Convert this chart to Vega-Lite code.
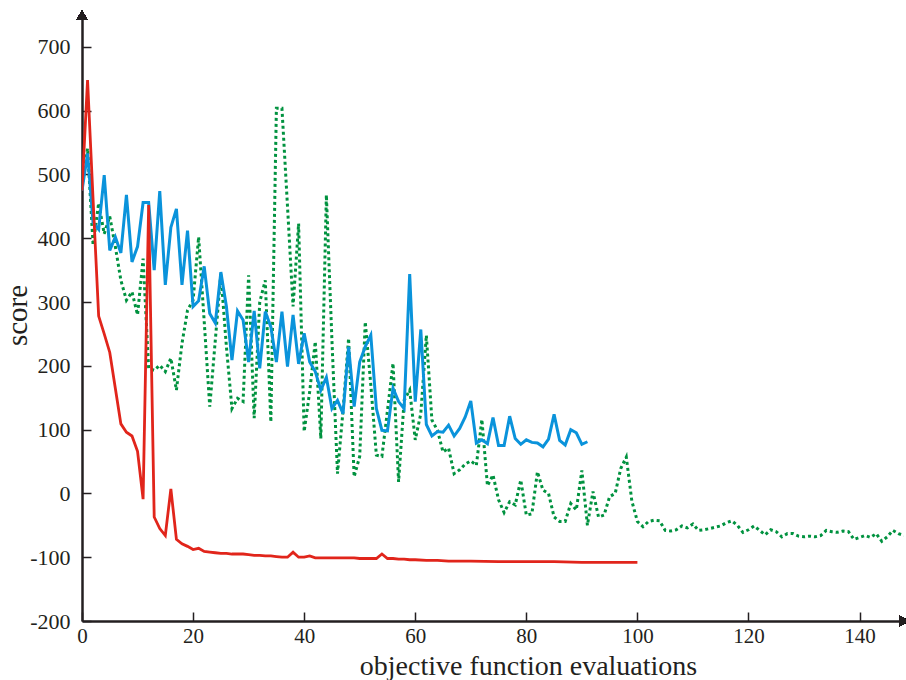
{
  "$schema": "https://vega.github.io/schema/vega-lite/v6.json",
  "width": 822,
  "height": 606,
  "autosize": {"type": "none"},
  "padding": {"left": 82, "top": 15, "right": 2, "bottom": 59},
  "background": "white",
  "config": {
    "view": {"stroke": null},
    "font": "Liberation Serif",
    "axis": {
      "grid": false,
      "domainColor": "#231f20",
      "domainWidth": 2.5,
      "tickColor": "#231f20",
      "tickWidth": 1.5,
      "tickSize": -9,
      "labelColor": "#231f20",
      "titleColor": "#231f20",
      "labelFont": "Liberation Serif",
      "titleFont": "Liberation Serif",
      "titleFontWeight": "normal",
      "labelFlush": false,
      "labelOverlap": false
    }
  },
  "data": {
    "values": [
      {"s": "red", "x": 0, "y": 475}, {"s": "red", "x": 1, "y": 648}, {"s": "red", "x": 2, "y": 460}, {"s": "red", "x": 3, "y": 278},
      {"s": "red", "x": 4, "y": 250}, {"s": "red", "x": 5, "y": 221}, {"s": "red", "x": 6, "y": 165}, {"s": "red", "x": 7, "y": 109},
      {"s": "red", "x": 8, "y": 96}, {"s": "red", "x": 9, "y": 90}, {"s": "red", "x": 10, "y": 66}, {"s": "red", "x": 11, "y": -9},
      {"s": "red", "x": 12, "y": 452}, {"s": "red", "x": 13, "y": -37}, {"s": "red", "x": 14, "y": -55}, {"s": "red", "x": 15, "y": -66},
      {"s": "red", "x": 16, "y": 7}, {"s": "red", "x": 17, "y": -72}, {"s": "red", "x": 18, "y": -79}, {"s": "red", "x": 19, "y": -83},
      {"s": "red", "x": 20, "y": -88}, {"s": "red", "x": 21, "y": -86}, {"s": "red", "x": 22, "y": -91}, {"s": "red", "x": 23, "y": -92},
      {"s": "red", "x": 24, "y": -93}, {"s": "red", "x": 25, "y": -94}, {"s": "red", "x": 26, "y": -94}, {"s": "red", "x": 27, "y": -95},
      {"s": "red", "x": 28, "y": -95}, {"s": "red", "x": 29, "y": -95}, {"s": "red", "x": 30, "y": -96}, {"s": "red", "x": 31, "y": -97},
      {"s": "red", "x": 32, "y": -97}, {"s": "red", "x": 33, "y": -98}, {"s": "red", "x": 34, "y": -98}, {"s": "red", "x": 35, "y": -99},
      {"s": "red", "x": 36, "y": -100}, {"s": "red", "x": 37, "y": -100}, {"s": "red", "x": 38, "y": -92}, {"s": "red", "x": 39, "y": -100},
      {"s": "red", "x": 40, "y": -100}, {"s": "red", "x": 41, "y": -98}, {"s": "red", "x": 42, "y": -101}, {"s": "red", "x": 43, "y": -101},
      {"s": "red", "x": 44, "y": -101}, {"s": "red", "x": 45, "y": -101}, {"s": "red", "x": 46, "y": -101}, {"s": "red", "x": 47, "y": -101},
      {"s": "red", "x": 48, "y": -101}, {"s": "red", "x": 49, "y": -101}, {"s": "red", "x": 50, "y": -102}, {"s": "red", "x": 51, "y": -102},
      {"s": "red", "x": 52, "y": -102}, {"s": "red", "x": 53, "y": -102}, {"s": "red", "x": 54, "y": -95}, {"s": "red", "x": 55, "y": -102},
      {"s": "red", "x": 56, "y": -102}, {"s": "red", "x": 57, "y": -103}, {"s": "red", "x": 58, "y": -103}, {"s": "red", "x": 59, "y": -104},
      {"s": "red", "x": 60, "y": -104}, {"s": "red", "x": 62, "y": -105}, {"s": "red", "x": 64, "y": -105}, {"s": "red", "x": 66, "y": -106},
      {"s": "red", "x": 70, "y": -106}, {"s": "red", "x": 75, "y": -107}, {"s": "red", "x": 80, "y": -107}, {"s": "red", "x": 85, "y": -107},
      {"s": "red", "x": 90, "y": -108}, {"s": "red", "x": 95, "y": -108}, {"s": "red", "x": 100, "y": -108},

      {"s": "blue", "x": 0, "y": 475}, {"s": "blue", "x": 1, "y": 533}, {"s": "blue", "x": 2, "y": 424}, {"s": "blue", "x": 3, "y": 414},
      {"s": "blue", "x": 4, "y": 499}, {"s": "blue", "x": 5, "y": 381}, {"s": "blue", "x": 6, "y": 402}, {"s": "blue", "x": 7, "y": 377},
      {"s": "blue", "x": 8, "y": 468}, {"s": "blue", "x": 9, "y": 363}, {"s": "blue", "x": 10, "y": 387}, {"s": "blue", "x": 11, "y": 456},
      {"s": "blue", "x": 12, "y": 456}, {"s": "blue", "x": 13, "y": 350}, {"s": "blue", "x": 14, "y": 474}, {"s": "blue", "x": 15, "y": 327},
      {"s": "blue", "x": 16, "y": 417}, {"s": "blue", "x": 17, "y": 446}, {"s": "blue", "x": 18, "y": 327}, {"s": "blue", "x": 19, "y": 412},
      {"s": "blue", "x": 20, "y": 293}, {"s": "blue", "x": 21, "y": 302}, {"s": "blue", "x": 22, "y": 356}, {"s": "blue", "x": 23, "y": 282},
      {"s": "blue", "x": 24, "y": 267}, {"s": "blue", "x": 25, "y": 347}, {"s": "blue", "x": 26, "y": 293}, {"s": "blue", "x": 27, "y": 209},
      {"s": "blue", "x": 28, "y": 286}, {"s": "blue", "x": 29, "y": 272}, {"s": "blue", "x": 30, "y": 206}, {"s": "blue", "x": 31, "y": 286},
      {"s": "blue", "x": 32, "y": 196}, {"s": "blue", "x": 33, "y": 285}, {"s": "blue", "x": 34, "y": 261}, {"s": "blue", "x": 35, "y": 206},
      {"s": "blue", "x": 36, "y": 285}, {"s": "blue", "x": 37, "y": 199}, {"s": "blue", "x": 38, "y": 280}, {"s": "blue", "x": 39, "y": 203},
      {"s": "blue", "x": 40, "y": 251}, {"s": "blue", "x": 41, "y": 206}, {"s": "blue", "x": 42, "y": 191}, {"s": "blue", "x": 43, "y": 162},
      {"s": "blue", "x": 44, "y": 182}, {"s": "blue", "x": 45, "y": 133}, {"s": "blue", "x": 46, "y": 146}, {"s": "blue", "x": 47, "y": 125},
      {"s": "blue", "x": 48, "y": 230}, {"s": "blue", "x": 49, "y": 136}, {"s": "blue", "x": 50, "y": 206}, {"s": "blue", "x": 51, "y": 230},
      {"s": "blue", "x": 52, "y": 248}, {"s": "blue", "x": 53, "y": 133}, {"s": "blue", "x": 54, "y": 99}, {"s": "blue", "x": 55, "y": 98},
      {"s": "blue", "x": 56, "y": 165}, {"s": "blue", "x": 57, "y": 144}, {"s": "blue", "x": 58, "y": 133}, {"s": "blue", "x": 59, "y": 344},
      {"s": "blue", "x": 60, "y": 144}, {"s": "blue", "x": 61, "y": 257}, {"s": "blue", "x": 62, "y": 108}, {"s": "blue", "x": 63, "y": 90},
      {"s": "blue", "x": 64, "y": 97}, {"s": "blue", "x": 65, "y": 96}, {"s": "blue", "x": 66, "y": 107}, {"s": "blue", "x": 67, "y": 90},
      {"s": "blue", "x": 68, "y": 102}, {"s": "blue", "x": 69, "y": 120}, {"s": "blue", "x": 70, "y": 145}, {"s": "blue", "x": 71, "y": 79},
      {"s": "blue", "x": 72, "y": 84}, {"s": "blue", "x": 73, "y": 78}, {"s": "blue", "x": 74, "y": 119}, {"s": "blue", "x": 75, "y": 75},
      {"s": "blue", "x": 76, "y": 75}, {"s": "blue", "x": 77, "y": 121}, {"s": "blue", "x": 78, "y": 86}, {"s": "blue", "x": 79, "y": 77},
      {"s": "blue", "x": 80, "y": 84}, {"s": "blue", "x": 81, "y": 80}, {"s": "blue", "x": 82, "y": 79}, {"s": "blue", "x": 83, "y": 73},
      {"s": "blue", "x": 84, "y": 85}, {"s": "blue", "x": 85, "y": 124}, {"s": "blue", "x": 86, "y": 83}, {"s": "blue", "x": 87, "y": 76},
      {"s": "blue", "x": 88, "y": 100}, {"s": "blue", "x": 89, "y": 95}, {"s": "blue", "x": 90, "y": 77}, {"s": "blue", "x": 91, "y": 81},

      {"s": "green", "x": 0, "y": 480}, {"s": "green", "x": 1, "y": 541}, {"s": "green", "x": 2, "y": 389}, {"s": "green", "x": 3, "y": 455},
      {"s": "green", "x": 4, "y": 407}, {"s": "green", "x": 5, "y": 434}, {"s": "green", "x": 6, "y": 387}, {"s": "green", "x": 7, "y": 334},
      {"s": "green", "x": 8, "y": 303}, {"s": "green", "x": 9, "y": 316}, {"s": "green", "x": 10, "y": 280}, {"s": "green", "x": 11, "y": 368},
      {"s": "green", "x": 12, "y": 196}, {"s": "green", "x": 13, "y": 193}, {"s": "green", "x": 14, "y": 201}, {"s": "green", "x": 15, "y": 191},
      {"s": "green", "x": 16, "y": 212}, {"s": "green", "x": 17, "y": 162}, {"s": "green", "x": 18, "y": 235}, {"s": "green", "x": 19, "y": 287},
      {"s": "green", "x": 20, "y": 303}, {"s": "green", "x": 21, "y": 402}, {"s": "green", "x": 22, "y": 270}, {"s": "green", "x": 23, "y": 136},
      {"s": "green", "x": 24, "y": 240}, {"s": "green", "x": 25, "y": 345}, {"s": "green", "x": 26, "y": 230}, {"s": "green", "x": 27, "y": 133},
      {"s": "green", "x": 28, "y": 149}, {"s": "green", "x": 29, "y": 144}, {"s": "green", "x": 30, "y": 342}, {"s": "green", "x": 31, "y": 118},
      {"s": "green", "x": 32, "y": 300}, {"s": "green", "x": 33, "y": 334}, {"s": "green", "x": 34, "y": 112}, {"s": "green", "x": 35, "y": 604},
      {"s": "green", "x": 36, "y": 604}, {"s": "green", "x": 37, "y": 450}, {"s": "green", "x": 38, "y": 293}, {"s": "green", "x": 39, "y": 423},
      {"s": "green", "x": 40, "y": 97}, {"s": "green", "x": 41, "y": 160}, {"s": "green", "x": 42, "y": 238}, {"s": "green", "x": 43, "y": 86},
      {"s": "green", "x": 44, "y": 468}, {"s": "green", "x": 45, "y": 240}, {"s": "green", "x": 46, "y": 31}, {"s": "green", "x": 47, "y": 130},
      {"s": "green", "x": 48, "y": 243}, {"s": "green", "x": 49, "y": 26}, {"s": "green", "x": 50, "y": 58}, {"s": "green", "x": 51, "y": 269},
      {"s": "green", "x": 52, "y": 170}, {"s": "green", "x": 53, "y": 60}, {"s": "green", "x": 54, "y": 58}, {"s": "green", "x": 55, "y": 130},
      {"s": "green", "x": 56, "y": 204}, {"s": "green", "x": 57, "y": 18}, {"s": "green", "x": 58, "y": 146}, {"s": "green", "x": 59, "y": 162},
      {"s": "green", "x": 60, "y": 84}, {"s": "green", "x": 61, "y": 125}, {"s": "green", "x": 62, "y": 248}, {"s": "green", "x": 63, "y": 115},
      {"s": "green", "x": 64, "y": 99}, {"s": "green", "x": 65, "y": 65}, {"s": "green", "x": 66, "y": 71}, {"s": "green", "x": 67, "y": 31},
      {"s": "green", "x": 68, "y": 37}, {"s": "green", "x": 69, "y": 46}, {"s": "green", "x": 70, "y": 51}, {"s": "green", "x": 71, "y": 44},
      {"s": "green", "x": 72, "y": 116}, {"s": "green", "x": 73, "y": 12}, {"s": "green", "x": 74, "y": 29}, {"s": "green", "x": 75, "y": -10},
      {"s": "green", "x": 76, "y": -30}, {"s": "green", "x": 77, "y": -13}, {"s": "green", "x": 78, "y": -18}, {"s": "green", "x": 79, "y": 21},
      {"s": "green", "x": 80, "y": -34}, {"s": "green", "x": 81, "y": -32}, {"s": "green", "x": 82, "y": 34}, {"s": "green", "x": 83, "y": 5},
      {"s": "green", "x": 84, "y": 0}, {"s": "green", "x": 85, "y": -37}, {"s": "green", "x": 86, "y": -44}, {"s": "green", "x": 87, "y": -44},
      {"s": "green", "x": 88, "y": -16}, {"s": "green", "x": 89, "y": -26}, {"s": "green", "x": 90, "y": 36}, {"s": "green", "x": 91, "y": -50},
      {"s": "green", "x": 92, "y": 3}, {"s": "green", "x": 93, "y": -37}, {"s": "green", "x": 94, "y": -34}, {"s": "green", "x": 95, "y": -5},
      {"s": "green", "x": 96, "y": 0}, {"s": "green", "x": 97, "y": 39}, {"s": "green", "x": 98, "y": 57}, {"s": "green", "x": 99, "y": -12},
      {"s": "green", "x": 100, "y": -44}, {"s": "green", "x": 101, "y": -52}, {"s": "green", "x": 102, "y": -44}, {"s": "green", "x": 103, "y": -42},
      {"s": "green", "x": 104, "y": -43}, {"s": "green", "x": 105, "y": -58}, {"s": "green", "x": 106, "y": -59}, {"s": "green", "x": 107, "y": -57},
      {"s": "green", "x": 108, "y": -51}, {"s": "green", "x": 109, "y": -54}, {"s": "green", "x": 110, "y": -48}, {"s": "green", "x": 111, "y": -58},
      {"s": "green", "x": 112, "y": -57}, {"s": "green", "x": 113, "y": -55}, {"s": "green", "x": 114, "y": -53}, {"s": "green", "x": 115, "y": -51},
      {"s": "green", "x": 116, "y": -46}, {"s": "green", "x": 117, "y": -43}, {"s": "green", "x": 118, "y": -50}, {"s": "green", "x": 119, "y": -61},
      {"s": "green", "x": 120, "y": -57}, {"s": "green", "x": 121, "y": -51}, {"s": "green", "x": 122, "y": -58}, {"s": "green", "x": 123, "y": -65},
      {"s": "green", "x": 124, "y": -57}, {"s": "green", "x": 125, "y": -60}, {"s": "green", "x": 126, "y": -68}, {"s": "green", "x": 127, "y": -63},
      {"s": "green", "x": 128, "y": -63}, {"s": "green", "x": 129, "y": -67}, {"s": "green", "x": 130, "y": -68}, {"s": "green", "x": 131, "y": -67},
      {"s": "green", "x": 132, "y": -68}, {"s": "green", "x": 133, "y": -66}, {"s": "green", "x": 134, "y": -58}, {"s": "green", "x": 135, "y": -60},
      {"s": "green", "x": 136, "y": -61}, {"s": "green", "x": 137, "y": -59}, {"s": "green", "x": 138, "y": -60}, {"s": "green", "x": 139, "y": -72},
      {"s": "green", "x": 140, "y": -69}, {"s": "green", "x": 141, "y": -66}, {"s": "green", "x": 142, "y": -69}, {"s": "green", "x": 143, "y": -63},
      {"s": "green", "x": 144, "y": -75}, {"s": "green", "x": 145, "y": -68}, {"s": "green", "x": 146, "y": -58}, {"s": "green", "x": 147, "y": -63},
      {"s": "green", "x": 148, "y": -66}
    ]
  },
  "encoding": {
    "x": {
      "field": "x", "type": "quantitative",
      "scale": {"domain": [0, 148], "nice": false, "zero": false},
      "axis": {
        "values": [0, 20, 40, 60, 80, 100, 120, 140],
        "labelExpr": "'' + datum.value",
        "labelFontSize": 21, "labelPadding": 13, "labelBaseline": "top",
        "title": "objective function evaluations", "titleFontSize": 28,
        "titleX": 446, "titleY": 53, "titleBaseline": "alphabetic", "titleAnchor": null
      }
    },
    "y": {
      "field": "y", "type": "quantitative",
      "scale": {"domain": [-200, 750], "nice": false, "zero": false},
      "axis": {
        "values": [-200, -100, 0, 100, 200, 300, 400, 500, 600, 700],
        "labelExpr": "'' + datum.value",
        "labelFontSize": 22, "labelPadding": 21, "labelBaseline": "middle",
        "title": "score", "titleFontSize": 29, "titleAngle": -90,
        "titleX": -56, "titleY": 300, "titleBaseline": "alphabetic", "titleAlign": "center", "titleAnchor": null
      }
    }
  },
  "layer": [
    {
      "transform": [{"filter": "datum.s === 'green'"}],
      "mark": {"type": "line", "color": "#00923f", "strokeWidth": 3, "strokeDash": [3, 3], "clip": true}
    },
    {
      "transform": [{"filter": "datum.s === 'blue'"}],
      "mark": {"type": "line", "color": "#0a93db", "strokeWidth": 3, "clip": true}
    },
    {
      "transform": [{"filter": "datum.s === 'red'"}],
      "mark": {"type": "line", "color": "#e1251b", "strokeWidth": 2.8, "clip": true}
    },
    {
      "mark": {"type": "point", "shape": "triangle-up", "filled": true, "color": "#231f20", "size": 110, "opacity": 1},
      "encoding": {"x": {"datum": 0, "type": "quantitative"}, "y": {"datum": 750, "type": "quantitative"}}
    },
    {
      "mark": {"type": "point", "shape": "triangle-right", "filled": true, "color": "#231f20", "size": 110, "opacity": 1},
      "encoding": {"x": {"datum": 148, "type": "quantitative"}, "y": {"datum": -200, "type": "quantitative"}}
    }
  ]
}
